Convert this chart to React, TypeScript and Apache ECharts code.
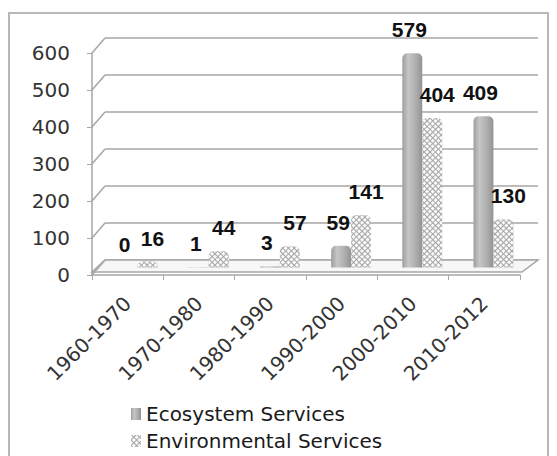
import React, { useEffect, useRef } from "react";
import * as echarts from "echarts";

const categories = ["1960-1970", "1970-1980", "1980-1990", "1990-2000", "2000-2010", "2010-2012"];
const ecosystemValues = [0, 1, 3, 59, 579, 409];
const environmentalValues = [16, 44, 57, 141, 404, 130];
const yTicks = [0, 100, 200, 300, 400, 500, 600];
const seriesNames = ["Ecosystem Services", "Environmental Services"];

const GRAY = "#a6a6a6";
const AXIS_FONT = "DejaVu Sans";

export default function App() {
  const ref = useRef<HTMLDivElement>(null);
  useEffect(() => {
    if (!ref.current) return;
    const chart = echarts.init(ref.current, undefined, { renderer: "svg" });
    const DX = 13;
    const DY = 15;
    const option: any = {
      animation: false,
      backgroundColor: "#ffffff",
      grid: [
        { left: 105, top: 38, width: 433, height: 222, containLabel: false, outerBoundsMode: "none" },
        { left: 92, top: 53, width: 428, height: 222, containLabel: false, outerBoundsMode: "none" },
        { left: 102, top: 45.5, width: 427, height: 222, containLabel: false, outerBoundsMode: "none" },
      ],
      xAxis: [
        { gridIndex: 0, type: "category", data: categories, show: false },
        {
          gridIndex: 1,
          type: "category",
          data: categories,
          axisLine: { show: true, lineStyle: { color: GRAY, width: 1.5 } },
          axisTick: { show: true, length: 5, lineStyle: { color: GRAY } },
          axisLabel: {
            rotate: 45,
            margin: 25,
            fontFamily: AXIS_FONT,
            fontSize: 20,
            color: "#333",
            interval: 0,
          },
        },
        { gridIndex: 2, type: "category", data: categories, show: false },
      ],
      yAxis: [
        {
          gridIndex: 0,
          type: "value",
          min: 0,
          max: 600,
          interval: 100,
          axisLine: { show: false },
          axisTick: { show: false },
          axisLabel: { show: false },
          splitLine: { show: true, lineStyle: { color: GRAY, width: 1.5 } },
        },
        {
          gridIndex: 1,
          type: "value",
          min: 0,
          max: 600,
          interval: 100,
          axisLine: { show: true, lineStyle: { color: GRAY, width: 1.5 } },
          axisTick: { show: true, length: 5, lineStyle: { color: GRAY } },
          axisLabel: { margin: 22, fontFamily: AXIS_FONT, fontSize: 20, color: "#333" },
          splitLine: { show: false },
        },
        { gridIndex: 2, type: "value", min: 0, max: 600, interval: 100, show: false },
      ],
      legend: {
        orient: "vertical",
        left: 131,
        top: 403,
        padding: 0,
        itemWidth: 10,
        itemHeight: 12,
        itemGap: 5,
        icon: "rect",
        data: seriesNames,
        textStyle: { fontFamily: AXIS_FONT, fontSize: 20, color: "#1a1a1a", lineHeight: 22 },
      },
      graphic: [
        {
          type: "rect",
          shape: { x: 9, y: 13, width: 539, height: 470 },
          style: { fill: "none", stroke: "#b8b8b8", lineWidth: 2 },
          silent: true,
        },
      ],
      series: [
        {
          type: "custom",
          xAxisIndex: 0,
          yAxisIndex: 0,
          z: 1,
          silent: true,
          data: yTicks.map((v) => [0, v]),
          renderItem: (params: any, api: any) => {
            const cs = params.coordSys;
            const v = api.value(1);
            const y = api.coord([0, v])[1];
            const left = cs.x;
            const children: any[] = [
              {
                type: "line",
                shape: { x1: left - DX, y1: y + DY, x2: left, y2: y },
                style: { stroke: GRAY, lineWidth: 1.5 },
              },
            ];
            if (v === 0) {
              const right = cs.x + cs.width;
              children.unshift({
                type: "polygon",
                shape: {
                  points: [
                    [left, y],
                    [right, y],
                    [right - DX - 3, y + DY - 3],
                    [left - DX, y + DY - 3],
                  ],
                },
                style: { fill: "#f7f7f7", stroke: GRAY, lineWidth: 1.5 },
              });
            }
            return { type: "group", children };
          },
        },
        {
          name: seriesNames[0],
          type: "bar",
          xAxisIndex: 2,
          yAxisIndex: 2,
          z: 3,
          data: ecosystemValues,
          barGap: "0%",
          barCategoryGap: "44%",
          itemStyle: {
            borderRadius: [5, 5, 0, 0],
            color: new echarts.graphic.LinearGradient(0, 0, 1, 0, [
              { offset: 0, color: "#9e9e9e" },
              { offset: 0.3, color: "#c6c6c6" },
              { offset: 0.65, color: "#b0b0b0" },
              { offset: 1, color: "#939393" },
            ]),
          },
          label: {
            show: true,
            position: "top",
            distance: 13,
            offset: [-3, 0],
            fontFamily: "Liberation Sans",
            fontWeight: "bold",
            fontSize: 21,
            color: "#111",
          },
        },
        {
          name: seriesNames[1],
          type: "bar",
          xAxisIndex: 2,
          yAxisIndex: 2,
          z: 3,
          data: environmentalValues,
          barGap: "0%",
          barCategoryGap: "44%",
          itemStyle: {
            borderRadius: [5, 5, 0, 0],
            color: "#a4a4a4",
            decal: {
              symbol: "rect",
              symbolSize: 1,
              dashArrayX: [3, 1],
              dashArrayY: [3, 1],
              rotation: Math.PI / 4,
              color: "rgba(255,255,255,0.95)",
            },
          },
          label: {
            show: true,
            position: "top",
            distance: 13,
            offset: [5, 0],
            fontFamily: "Liberation Sans",
            fontWeight: "bold",
            fontSize: 21,
            color: "#111",
          },
        },
      ],
    };
    chart.setOption(option);
    return () => chart.dispose();
  }, []);
  return <div ref={ref} style={{ width: 557, height: 456, position: "absolute", left: 0, top: 0 }} />;
}
